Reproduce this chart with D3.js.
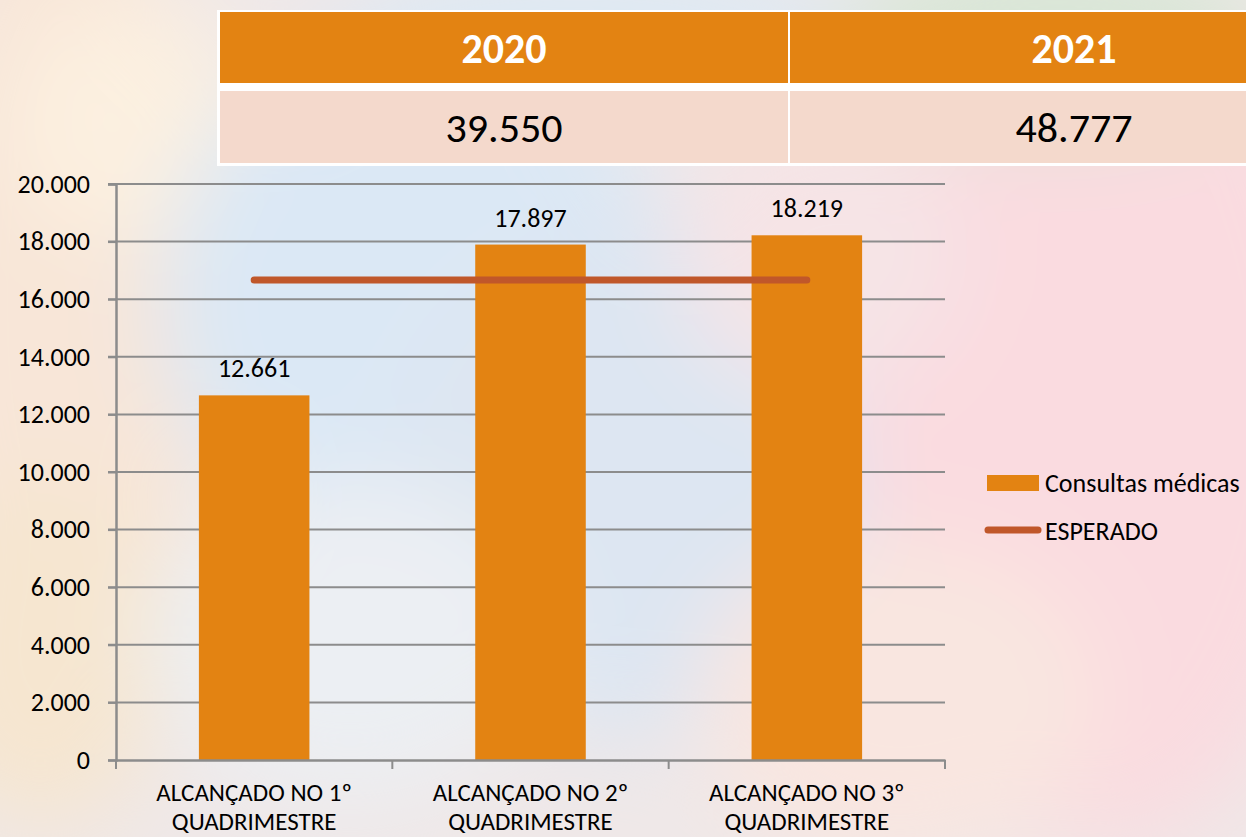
<!DOCTYPE html>
<html lang="pt">
<head>
<meta charset="UTF-8">
<title>Consultas médicas</title>
<script src="https://d3js.org/d3.v7.min.js"></script>
<style>
  body { margin: 0; padding: 0; overflow: hidden; }
  svg { display: block; font-family: Carlito, Lato, "Noto Sans", sans-serif; }
</style>
</head>
<body>
<svg id="chart" width="1246" height="837"></svg>
<script>
// dados do gráfico
const categorias = ["ALCANÇADO NO 1º|QUADRIMESTRE", "ALCANÇADO NO 2º|QUADRIMESTRE", "ALCANÇADO NO 3º|QUADRIMESTRE"];
const consultas = [12661, 17897, 18219];
const esperado = [16667, 16667, 16667];
const anos = ["2020", "2021"];
const totais = ["39.550", "48.777"];
const yTicks = [0, 2000, 4000, 6000, 8000, 10000, 12000, 14000, 16000, 18000, 20000];

const W = 1246, H = 837;
const FONT = "Carlito, Lato, 'Noto Sans', sans-serif";
const svg = d3.select("#chart");

// fundo desfocado
const defs = svg.append("defs");
defs.append("filter").attr("id", "blur")
  .attr("x", "-50%").attr("y", "-50%").attr("width", "200%").attr("height", "200%")
  .append("feGaussianBlur").attr("stdDeviation", 45);

svg.append("rect").attr("width", W).attr("height", H).attr("fill", "#efe8e8");
const blobs = [
  {x: 60, y: 300, rx: 160, ry: 420, c: "#f8e6d8"},
  {x: 130, y: 120, rx: 120, ry: 120, c: "#fcf0e0"},
  {x: 40, y: 650, rx: 130, ry: 180, c: "#f6e6d0"},
  {x: 420, y: 300, rx: 260, ry: 260, c: "#dbe8f5"},
  {x: 640, y: 480, rx: 260, ry: 260, c: "#dde6f2"},
  {x: 350, y: 640, rx: 200, ry: 160, c: "#eceff3"},
  {x: 1100, y: 400, rx: 260, ry: 450, c: "#fadbe0"},
  {x: 1050, y: 40, rx: 220, ry: 90, c: "#d8e6d6"},
  {x: 900, y: 700, rx: 200, ry: 160, c: "#f9e6e0"},
  {x: 820, y: 250, rx: 140, ry: 140, c: "#f6e4e6"},
  {x: 600, y: 30, rx: 260, ry: 60, c: "#dbe9f5"}
];
svg.append("g").attr("filter", "url(#blur)")
  .selectAll("ellipse").data(blobs).join("ellipse")
  .attr("cx", d => d.x).attr("cy", d => d.y)
  .attr("rx", d => d.rx).attr("ry", d => d.ry)
  .attr("fill", d => d.c);

// tabela no topo
const tabX = d3.scaleBand().domain(anos).range([219, 1359]);
const tab = svg.append("g");
tab.append("rect").attr("x", 217).attr("y", 10).attr("width", 1100).attr("height", 156).attr("fill", "#ffffff");
tab.selectAll(".hdr").data(anos).join("rect")
  .attr("x", d => tabX(d) + 1).attr("y", 12)
  .attr("width", tabX.bandwidth() - 2).attr("height", 71)
  .attr("fill", "#e38312");
tab.selectAll(".val").data(anos).join("rect")
  .attr("x", d => tabX(d) + 1).attr("y", 91)
  .attr("width", tabX.bandwidth() - 2).attr("height", 72)
  .attr("fill", "#f4d9cc");
tab.selectAll(".ano").data(anos).join("text")
  .attr("x", d => tabX(d) + tabX.bandwidth() / 2).attr("y", 48)
  .attr("text-anchor", "middle").attr("dominant-baseline", "central")
  .attr("font-size", 42).attr("font-weight", "bold").attr("fill", "#fff")
  .text(d => d);
tab.selectAll(".tot").data(anos).join("text")
  .attr("x", d => tabX(d) + tabX.bandwidth() / 2).attr("y", 127)
  .attr("text-anchor", "middle").attr("dominant-baseline", "central")
  .attr("font-size", 42).attr("fill", "#000")
  .text((d, i) => totais[i]);

// escalas
const x = d3.scaleBand().domain(categorias).range([116, 945]).paddingInner(0.6).paddingOuter(0.3);
const xc = d3.scaleBand().domain(categorias).range([116, 945]);
const y = d3.scaleLinear().domain([0, 20000]).range([760, 184]);
const fmt = d3.formatLocale({decimal: ",", thousands: ".", grouping: [3], currency: ["R$", ""]}).format(",d");

// grade
svg.append("g").selectAll("line").data(yTicks.slice(1)).join("line")
  .attr("x1", 108).attr("x2", 945)
  .attr("y1", d => y(d)).attr("y2", d => y(d))
  .attr("stroke", "#8c8c8c").attr("stroke-width", 2);

// eixo y
const yAxis = svg.append("g").attr("transform", "translate(116,0)")
  .call(d3.axisLeft(y).tickValues(yTicks).tickFormat(fmt).tickSize(8).tickPadding(18));
yAxis.selectAll("line").attr("stroke", "#8c8c8c").attr("stroke-width", 2);
yAxis.select(".domain").attr("stroke", "#8c8c8c").attr("stroke-width", 2.5);
yAxis.selectAll("text").attr("font-size", 26).attr("font-family", FONT).attr("fill", "#000");

// barras
svg.append("g").selectAll("rect").data(consultas).join("rect")
  .attr("x", (d, i) => x(categorias[i]))
  .attr("y", d => y(d))
  .attr("width", x.bandwidth())
  .attr("height", d => y(0) - y(d))
  .attr("fill", "#e38312");

// rótulos de valores
svg.append("g").selectAll("text").data(consultas).join("text")
  .attr("x", (d, i) => x(categorias[i]) + x.bandwidth() / 2)
  .attr("y", d => y(d) - 18)
  .attr("text-anchor", "middle")
  .attr("font-size", 26).attr("fill", "#000")
  .text(d => fmt(d));

// eixo x
const xAxis = svg.append("g").attr("transform", "translate(0,760)")
  .call(d3.axisBottom(xc).tickSize(0).tickFormat(""));
xAxis.select(".domain").attr("stroke", "#8c8c8c").attr("stroke-width", 2.5);
svg.append("g").selectAll("line").data([0, 1, 2, 3]).join("line")
  .attr("x1", d => 116 + d * xc.step()).attr("x2", d => 116 + d * xc.step())
  .attr("y1", 760).attr("y2", 769)
  .attr("stroke", "#8c8c8c").attr("stroke-width", 2);
const xl = svg.append("g").selectAll("text").data(categorias).join("text")
  .attr("x", d => xc(d) + xc.bandwidth() / 2)
  .attr("y", 801)
  .attr("text-anchor", "middle")
  .attr("font-size", 25).attr("fill", "#000");
xl.each(function(d) {
  const parts = d.split("|");
  d3.select(this).selectAll("tspan").data(parts).join("tspan")
    .attr("x", xc(d) + xc.bandwidth() / 2)
    .attr("dy", (p, i) => i === 0 ? 0 : 29)
    .text(p => p);
});

// linha esperado
const line = d3.line()
  .x((d, i) => x(categorias[i]) + x.bandwidth() / 2)
  .y(d => y(d));
svg.append("path").datum(esperado)
  .attr("d", line)
  .attr("fill", "none").attr("stroke", "#c0572a")
  .attr("stroke-width", 7).attr("stroke-linecap", "round");

// legenda
const leg = svg.append("g");
leg.append("rect").attr("x", 987).attr("y", 475).attr("width", 52).attr("height", 16).attr("fill", "#e38312");
leg.append("text").attr("x", 1045).attr("y", 483).attr("dominant-baseline", "central")
  .attr("font-size", 26).attr("fill", "#000").text("Consultas médicas");
leg.append("line").attr("x1", 988).attr("x2", 1038).attr("y1", 530).attr("y2", 530)
  .attr("stroke", "#c0572a").attr("stroke-width", 7).attr("stroke-linecap", "round");
leg.append("text").attr("x", 1045).attr("y", 531).attr("dominant-baseline", "central")
  .attr("font-size", 26).attr("fill", "#000").text("ESPERADO");
</script>
</body>
</html>
